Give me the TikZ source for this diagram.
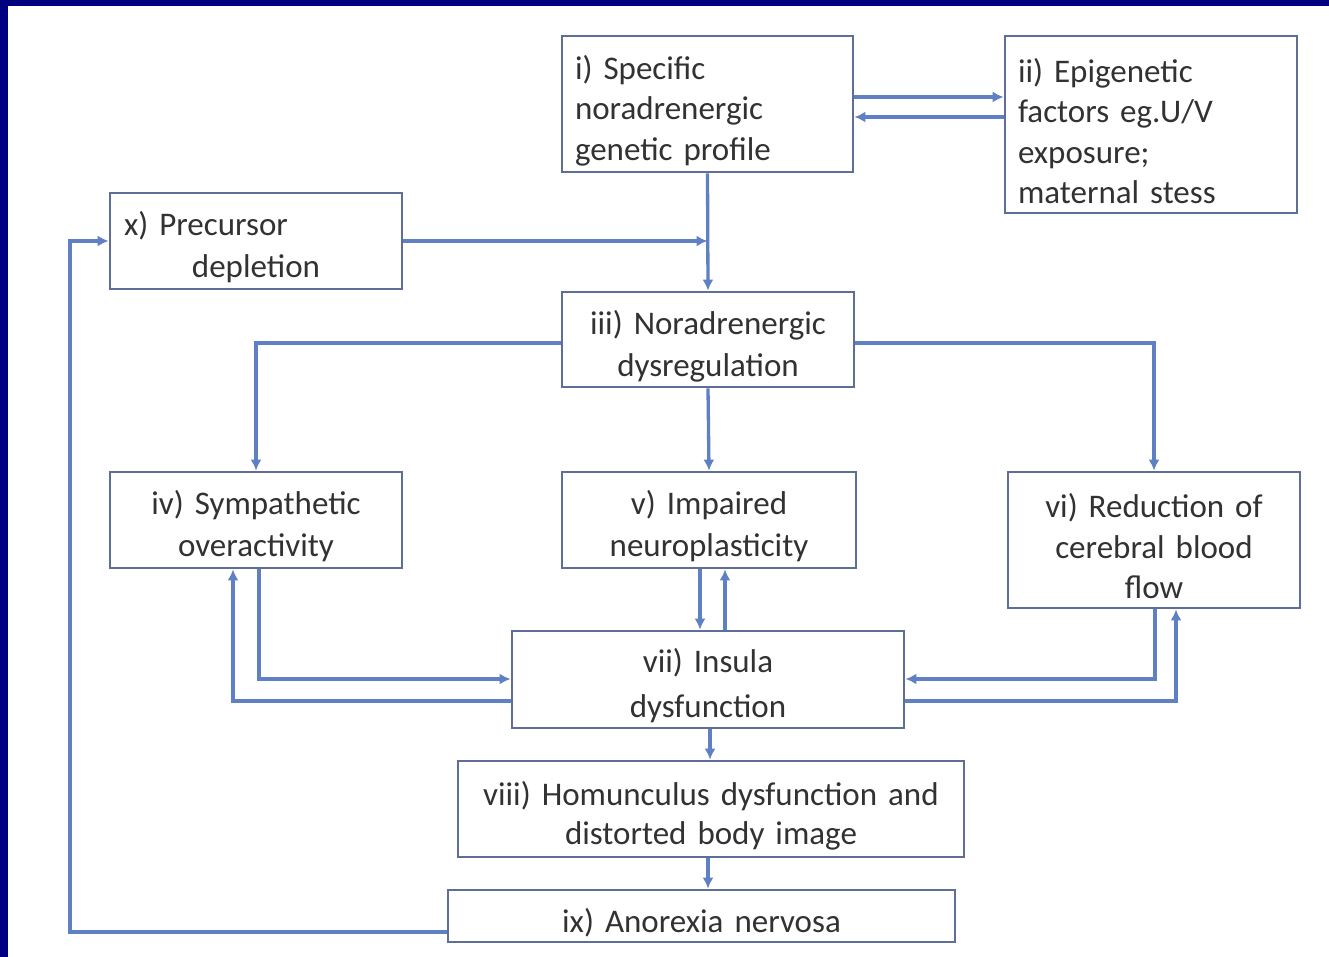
\documentclass[tikz,border=0pt]{standalone}
\usepackage{fontspec}
\setmainfont{Carlito}
\usetikzlibrary{arrows.meta}
\definecolor{navybg}{RGB}{0,0,128}
\definecolor{boxc}{RGB}{95,110,150}
\definecolor{linec}{RGB}{95,128,195}
\definecolor{txt}{RGB}{50,50,50}
\begin{document}
\begin{tikzpicture}[x=1pt,y=-1pt,
  box/.style={draw=boxc, line width=2.8pt, fill=white, inner sep=0pt, text=txt,
    font=\fontsize{33}{40.5}\selectfont, execute at begin node={\rule{0pt}{37pt}}},
  conn/.style={draw=linec, line width=3.3pt, -{Latex[length=11pt,width=11pt]}}]
\fill[navybg] (0,0) rectangle (1329,957);
\fill[white] (8,6) rectangle (1329,957);
\useasboundingbox (0,0) rectangle (1329,957);

\node[box, minimum width=291, minimum height=136, text width=265, align=left] (i) at (707.5,104)
  {i) Specific\\noradrenergic\\genetic profile};
\node[box, minimum width=292, minimum height=177, text width=266, align=left] (ii) at (1151,124.5)
  {ii) Epigenetic\\factors eg.U/V\\exposure;\\maternal stess};
\node[box, minimum width=292, minimum height=96, text width=264, align=center,
  font=\fontsize{33}{42}\selectfont] (x) at (256,241)
  {\makebox[\linewidth][l]{x) Precursor}\\depletion};
\node[box, minimum width=292, minimum height=95, text width=280, align=center,
  font=\fontsize{33}{42}\selectfont] (iii) at (708,339.5)
  {iii) Noradrenergic\\dysregulation};
\node[box, minimum width=292, minimum height=96, text width=280, align=center,
  font=\fontsize{33}{42}\selectfont] (iv) at (256,520)
  {iv) Sympathetic\\overactivity};
\node[box, minimum width=294, minimum height=96, text width=280, align=center,
  font=\fontsize{33}{42}\selectfont] (v) at (709,520)
  {v) Impaired\\neuroplasticity};
\node[box, minimum width=292, minimum height=136, text width=280, align=center] (vi) at (1154,540)
  {vi) Reduction of\\cerebral blood\\flow};
\node[box, minimum width=392, minimum height=97, text width=380, align=center,
  font=\fontsize{33}{45}\selectfont] (vii) at (708,679.5)
  {vii) Insula\\dysfunction};
\node[box, minimum width=506, minimum height=96, text width=495, align=center,
  font=\fontsize{33}{39}\selectfont] (viii) at (711,809)
  {viii) Homunculus dysfunction and\\distorted body image};
\node[box, minimum width=507, minimum height=52, text width=495, align=center] (ix) at (701.5,916)
  {ix) Anorexia nervosa};

% connectors
\draw[conn] (i.east |- 0,97) -- (ii.west |- 0,97);
\draw[conn] (ii.west |- 0,117) -- (i.east |- 0,117);
\draw[conn] (i.south) -- (iii.north);
\draw[conn] (x.east) -- (i.south |- x.east);
\draw[conn] (iii.west |- 0,343) -- (iv.north |- 0,343) -- (iv.north);
\draw[conn] (iii.south) -- (v.north);
\draw[conn] (iii.east |- 0,343) -- (vi.north |- 0,343) -- (vi.north);
\draw[conn] (v.south -| 700,0) -- (vii.north -| 700,0);
\draw[conn] (vii.north -| 725,0) -- (v.south -| 725,0);
\draw[conn] (iv.south -| 259,0) -- (259,679) -- (vii.west |- 0,679);
\draw[conn] (vii.west |- 0,701) -- (233,701) -- (iv.south -| 233,0);
\draw[conn] (vi.south -| 1155,0) -- (1155,679) -- (vii.east |- 0,679);
\draw[conn] (vii.east |- 0,701) -- (1176,701) -- (vi.south -| 1176,0);
\draw[conn] (vii.south -| 710,0) -- (viii.north -| 710,0);
\draw[conn] (viii.south -| 708,0) -- (ix.north -| 708,0);
\draw[conn] (ix.west |- 0,932) -- (70,932) -- (70,241) -- (x.west);
\end{tikzpicture}
\end{document}
